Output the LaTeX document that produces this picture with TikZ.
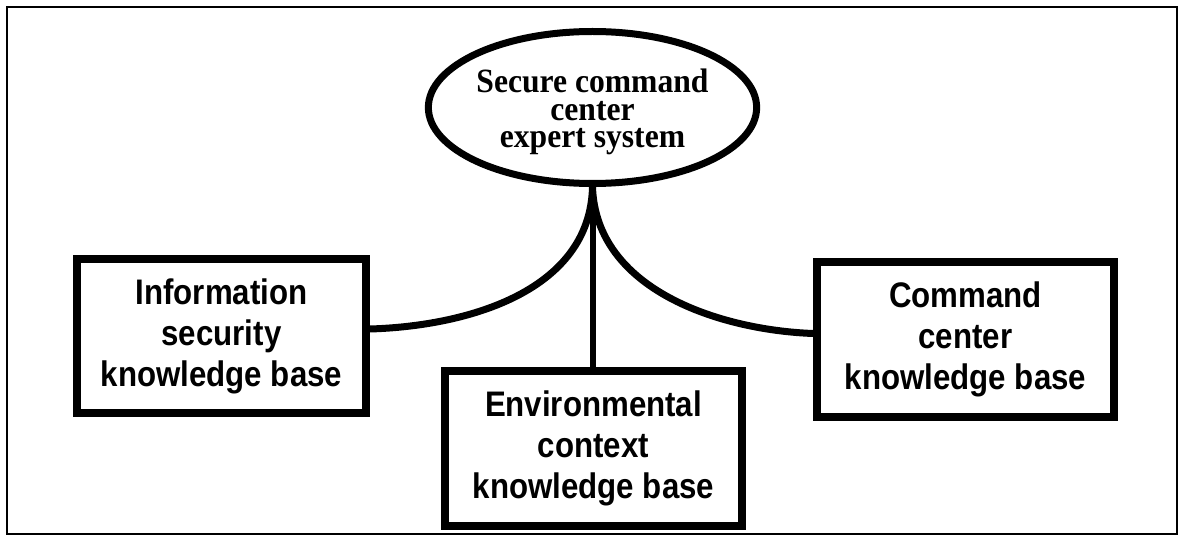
\documentclass[tikz,border=0pt]{standalone}
\usepackage{fontspec}
\setmainfont{Liberation Serif}[FakeStretch=0.93]
\newfontfamily\hvfont{Liberation Sans}[FakeStretch=0.88]
\usetikzlibrary{shapes.geometric}
\begin{document}
\begin{tikzpicture}[x=1pt,y=-1pt,
  kbox/.style={draw,line width=8pt,rectangle,inner sep=0pt,
    minimum width=297pt,minimum height=155pt,align=center,
    font=\hvfont\bfseries\fontsize{35.5}{41}\selectfont},
  esys/.style={draw,line width=7pt,ellipse,inner sep=0pt,
    minimum width=324pt,minimum height=152pt,
    font=\bfseries\fontsize{34}{27.5}\selectfont},
  link/.style={line width=7pt},
  frame/.style={line width=2pt}]
\useasboundingbox (0,0) rectangle (1180,537);
\draw[frame] (7,7) rectangle (1177,534);
\node[esys] (es) at (592.5,107.5) {\raisebox{-5pt}[\height][\depth]{\begin{tabular}{@{}c@{}}Secure command\\center\\expert system\end{tabular}}};
\node[kbox,minimum width=289pt,minimum height=154pt] (ib) at (221.5,336) {Information\\security\\knowledge base};
\node[kbox] (eb) at (593.5,448.5) {Environmental\\context\\knowledge base};
\node[kbox] (cb) at (965.5,339.5) {Command\\center\\knowledge base};
\draw[link] (es.south) .. controls (590,290) and (470,326) .. ([yshift=7pt]ib.east);
\draw[link] (es.south) .. controls (596,290) and (720,330) .. ([yshift=6pt]cb.east -| cb.west);
\draw[line width=6pt] (es.south) -- (es.south |- eb.north);
\end{tikzpicture}
\end{document}
